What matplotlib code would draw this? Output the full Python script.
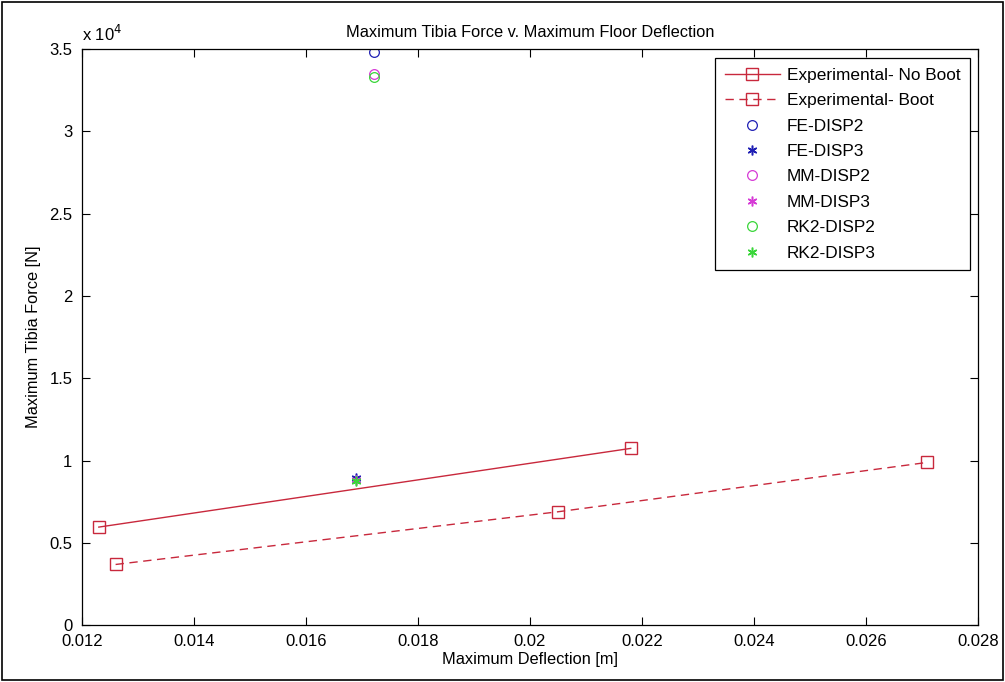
import matplotlib
matplotlib.use("Agg")
import matplotlib.pyplot as plt
from matplotlib.patches import Rectangle

# experimental results (deflection [m], tibia force [N])
defl_noboot = [0.0123, 0.0218]
force_noboot = [5970, 10750]
defl_boot = [0.0126, 0.0205, 0.0271]
force_boot = [3700, 6900, 9900]

# simulation results, one point per model
sim_labels = ['FE-DISP2', 'FE-DISP3', 'MM-DISP2', 'MM-DISP3', 'RK2-DISP2', 'RK2-DISP3']
sim_defl = [0.01721, 0.01690, 0.01721, 0.01690, 0.01721, 0.01690]
sim_force = [34800, 8950, 33500, 8800, 33300, 8750]
sim_markers = ['o', '*', 'o', '*', 'o', '*']
sim_colors = ['#1f1fb4', '#1f1fb4', '#d63ad6', '#d63ad6', '#3ad63a', '#3ad63a']

xticks = [0.012, 0.014, 0.016, 0.018, 0.02, 0.022, 0.024, 0.026, 0.028]
xtick_labels = ['0.012', '0.014', '0.016', '0.018', '0.02', '0.022', '0.024', '0.026', '0.028']
yticks = [0, 5000, 10000, 15000, 20000, 25000, 30000, 35000]
ytick_labels = ['0', '0.5', '1', '1.5', '2', '2.5', '3', '3.5']

plt.rcParams['font.family'] = ['Liberation Sans', 'DejaVu Sans']
fs_tick = 12
fs_lab = 11.8

fig = plt.figure(figsize=(10.05, 6.82), dpi=100)
ax = fig.add_axes([0.0816, 0.083, 0.8914, 0.845])

red = '#c8283c'
ax.plot(defl_noboot, force_noboot, '-', color=red, lw=1.0, marker='s',
        ms=8.5, mfc='none', mec=red, mew=1.0, label='Experimental- No Boot')
ax.plot(defl_boot, force_boot, '--', color=red, lw=1.0, marker='s',
        ms=8.5, mfc='none', mec=red, mew=1.0, dashes=(6, 4), label='Experimental- Boot')
for lab, x, y, m, c in zip(sim_labels, sim_defl, sim_force, sim_markers, sim_colors):
    if m == 'o':
        ax.plot([x], [y], ls='none', marker='o', ms=7, mfc='none', mec=c, mew=0.9, label=lab)
    else:
        # asterisk marker
        ax.plot([x], [y], ls='none', marker=(6, 2, 0), ms=7, color=c, mew=1.1, label=lab)

ax.set_xlim(0.012, 0.028)
ax.set_ylim(0, 35000)
ax.set_xticks(xticks)
ax.set_xticklabels(xtick_labels)
ax.set_yticks(yticks)
ax.set_yticklabels(ytick_labels)
ax.tick_params(direction='in', top=True, right=True, length=6, width=0.8, labelsize=fs_tick)
ax.tick_params(axis='x', pad=6)
ax.tick_params(axis='y', pad=7)
for s in ax.spines.values():
    s.set_linewidth(0.9)

ax.text(0.0, 1.008, r'x 10$^4$', transform=ax.transAxes, fontsize=fs_tick, ha='left', va='bottom')
ax.set_title('Maximum Tibia Force v. Maximum Floor Deflection', fontsize=fs_lab, pad=9)
ax.set_xlabel('Maximum Deflection [m]', fontsize=fs_lab, labelpad=2)
ax.set_ylabel('Maximum Tibia Force [N]', fontsize=fs_lab, labelpad=6)

leg = ax.legend(loc='upper right', bbox_to_anchor=(0.991, 0.984), borderaxespad=0,
                fontsize=12.4, fancybox=False, framealpha=1, edgecolor='black',
                handlelength=3.2, borderpad=0.55, labelspacing=0.6, handletextpad=0.4)
leg.get_frame().set_linewidth(0.9)

# outer frame round the whole figure
fig.patches.append(Rectangle((0.002, 0.003), 0.996, 0.994, transform=fig.transFigure,
                             fill=False, edgecolor='black', linewidth=1.2))

fig.savefig('out.png', dpi=100)
